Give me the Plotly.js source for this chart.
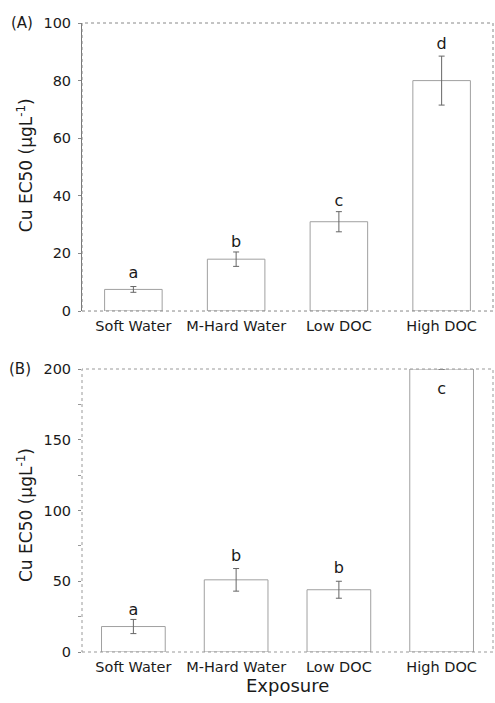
<!DOCTYPE html>
<html><head><meta charset="utf-8">
<script src="https://cdn.plot.ly/plotly-3.0.1.min.js"></script>
<style>html,body{margin:0;padding:0;background:#fff}#chart{width:495px;height:703px}</style>
</head><body><div id="chart"></div>
<script>
const categories = ['Soft Water', 'M-Hard Water', 'Low DOC', 'High DOC'];
const meanA = [7.5, 18, 31, 80];
const errA = [1, 2.5, 3.5, 8.5];
const lettersA = ['a', 'b', 'c', 'd'];
const letterYA = [13, 23.5, 38, 92.5];
const meanB = [18, 51, 44, 200];
const errB = [5, 8, 6, 0];
const lettersB = ['a', 'b', 'b', 'c'];
const letterYB = [29, 67, 59, 185];
const yTicksA = [0, 20, 40, 60, 80, 100];
const yTicksB = [0, 50, 100, 150, 200];

const FONT = '"DejaVu Sans", Verdana, sans-serif';
const barStyle = {color: '#ffffff', line: {color: '#a0a0a0', width: 1}};
const errStyle = (arr) => ({type: 'data', array: arr, visible: true, color: '#666', thickness: 1, width: 3});
const tickFont = {size: 14.5, color: '#1a1a1a', family: FONT};

const data = [
  {type: 'bar', x: categories, y: meanA, xaxis: 'x', yaxis: 'y', marker: barStyle, error_y: errStyle(errA), width: 0.56, hoverinfo: 'none'},
  {type: 'scatter', mode: 'text', x: categories, y: letterYA, text: lettersA, xaxis: 'x', yaxis: 'y', textfont: {size: 16, color: '#1a1a1a', family: FONT}, cliponaxis: false, hoverinfo: 'none'},
  {type: 'bar', x: categories, y: meanB, xaxis: 'x2', yaxis: 'y2', marker: barStyle, error_y: errStyle(errB), width: 0.62, hoverinfo: 'none'},
  {type: 'scatter', mode: 'text', x: categories, y: letterYB, text: lettersB, xaxis: 'x2', yaxis: 'y2', textfont: {size: 16, color: '#1a1a1a', family: FONT}, cliponaxis: false, hoverinfo: 'none'}
];

const xCommon = {type: 'category', categoryorder: 'array', categoryarray: categories, showline: false, ticks: '', showgrid: false, zeroline: false, tickfont: tickFont, ticklabelstandoff: 4, fixedrange: true};
const layout = {
  width: 495, height: 703,
  margin: {l: 82, r: 2, t: 23, b: 51},
  paper_bgcolor: '#fff', plot_bgcolor: '#fff',
  showlegend: false,
  font: {family: FONT, color: '#1a1a1a'},
  xaxis: Object.assign({}, xCommon, {domain: [0, 1], anchor: 'y'}),
  yaxis: {domain: [0.5421, 1], range: [0, 100], anchor: 'x', tickmode: 'array', tickvals: yTicksA, ticks: 'outside', ticklen: 3, tickcolor: '#888', showline: true, linecolor: '#777', linewidth: 1, showgrid: false, zeroline: false, tickfont: tickFont, ticklabelstandoff: 4},
  xaxis2: Object.assign({}, xCommon, {domain: [0, 1], anchor: 'y2'}),
  yaxis2: {domain: [0, 0.4499], range: [0, 200], anchor: 'x2', tickmode: 'array', tickvals: yTicksB, ticks: 'outside', ticklen: 3, tickcolor: '#888', showline: false, showgrid: false, zeroline: false, tickfont: tickFont, ticklabelstandoff: 4,
    minor: {tickmode: 'linear', tick0: 0, dtick: 25, ticks: 'outside', ticklen: 3, tickcolor: '#999'}},
  shapes: [
    {type: 'rect', xref: 'x domain', yref: 'y domain', x0: 0, x1: 1, y0: 0, y1: 1, line: {color: '#888', width: 1, dash: 'dot'}},
    {type: 'rect', xref: 'x2 domain', yref: 'y2 domain', x0: 0, x1: 1, y0: 0, y1: 1, line: {color: '#999', width: 1, dash: 'dot'}}
  ],
  annotations: [
    {text: '(A)', xref: 'paper', yref: 'paper', x: -0.146, y: 1.0, showarrow: false, font: {size: 15, color: '#1a1a1a'}, xanchor: 'center', yanchor: 'middle'},
    {text: '(B)', xref: 'paper', yref: 'paper', x: -0.151, y: 0.4499, showarrow: false, font: {size: 15, color: '#1a1a1a'}, xanchor: 'center', yanchor: 'middle'},
    {text: 'Cu EC50 (µgL<sup>-1</sup>)', xref: 'paper', yref: 'paper', x: -0.1387, y: 0.774, textangle: -90, showarrow: false, font: {size: 17, color: '#1a1a1a'}, xanchor: 'center', yanchor: 'middle'},
    {text: 'Cu EC50 (µgL<sup>-1</sup>)', xref: 'paper', yref: 'paper', x: -0.1387, y: 0.2178, textangle: -90, showarrow: false, font: {size: 17, color: '#1a1a1a'}, xanchor: 'center', yanchor: 'middle'},
    {text: 'Exposure', xref: 'paper', yref: 'paper', x: 0.501, y: -0.0525, showarrow: false, font: {size: 18, color: '#1a1a1a'}, xanchor: 'center', yanchor: 'middle'}
  ]
};

Plotly.newPlot('chart', data, layout, {displayModeBar: false, staticPlot: true});
</script>
</body></html>
